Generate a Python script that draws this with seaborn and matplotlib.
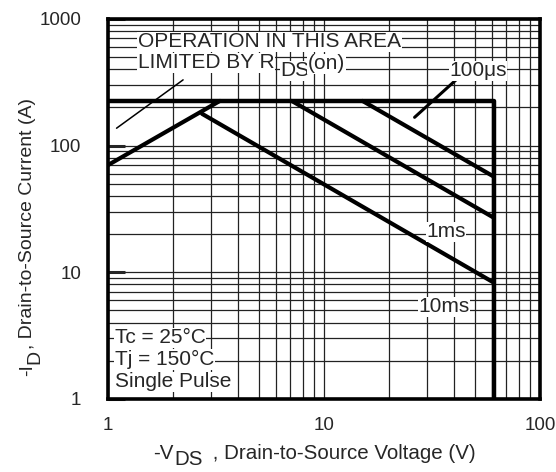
import matplotlib
matplotlib.use("Agg")
import matplotlib.pyplot as plt
import matplotlib.ticker as mticker
import seaborn as sns

# -----------------------------
# Data
# -----------------------------
# outer limit: current limit (225 A) then voltage limit (61 V)
limit_vds = [1, 61, 61]
limit_id = [225, 225, 1]

# RDS(on) limited region
rds_vds = [1, 3.3]
rds_id = [70, 225]

# pulse lines
ms10_vds = [2.73, 61]
ms10_id = [178, 8.3]
ms1_vds = [7.1, 61]
ms1_id = [225, 27]
us100_vds = [15.1, 61]
us100_id = [225, 57]

# pointer lines for the labels
rds_ptr_vds = [2.23, 1.097]
rds_ptr_id = [330, 137]
us_ptr_vds = [42.6, 26.3]
us_ptr_id = [351, 167]

x_ticks = [1, 10, 100]
y_ticks = [1, 10, 100, 1000]

# -----------------------------
# Style
# -----------------------------
sns.set_style("white")
plt.rcParams["font.family"] = ["Liberation Sans", "DejaVu Sans"]

fig = plt.figure(figsize=(5.56, 4.72), dpi=100)
ax = fig.add_axes([0.194, 0.155, 0.777, 0.805])
ax.set_xscale("log")
ax.set_yscale("log")
ax.set_xlim(1, 100)
ax.set_ylim(1, 1000)

# grid
ax.grid(which="both", color="#222222", lw=0.9)
ax.set_axisbelow(True)

line_kw = dict(ax=ax, color="black", estimator=None, sort=False, legend=False)
sns.lineplot(x=limit_vds, y=limit_id, lw=3.2, **line_kw)
sns.lineplot(x=rds_vds, y=rds_id, lw=3, **line_kw)
sns.lineplot(x=ms10_vds, y=ms10_id, lw=3, **line_kw)
sns.lineplot(x=ms1_vds, y=ms1_id, lw=3, **line_kw)
sns.lineplot(x=us100_vds, y=us100_id, lw=3, **line_kw)
sns.lineplot(x=rds_ptr_vds, y=rds_ptr_id, lw=1.1, **line_kw)
sns.lineplot(x=us_ptr_vds, y=us_ptr_id, lw=2.2, **line_kw)

# -----------------------------
# Labels inside the plot
# -----------------------------
box = dict(facecolor="white", edgecolor="none", pad=0.5)
fs = 15
ax.text(1.379, 658, "OPERATION IN THIS AREA", fontsize=fs, va="center", ha="left", bbox=box)
ax.text(1.379, 450, "LIMITED BY R", fontsize=fs, va="center", ha="left", bbox=box)
ax.text(6.31, 389, "DS", fontsize=fs, va="center", ha="left", bbox=box)
ax.text(8.43, 441, "(on)", fontsize=fs, va="center", ha="left", bbox=box)
ax.text(38.1, 389, "100\u03bcs", fontsize=fs, va="center", ha="left", bbox=box)
ax.text(29.8, 20.8, "1ms", fontsize=fs, va="center", ha="left", bbox=box)
ax.text(27.4, 5.33, "10ms", fontsize=fs, va="center", ha="left", bbox=box)
ax.text(1.078, 3.03, "Tc = 25\u00b0C", fontsize=fs, va="center", ha="left", bbox=box)
ax.text(1.078, 2.04, "Tj = 150\u00b0C", fontsize=fs, va="center", ha="left", bbox=box)
ax.text(1.078, 1.365, "Single Pulse", fontsize=fs, va="center", ha="left", bbox=box)

# -----------------------------
# Axes
# -----------------------------
ax.xaxis.set_major_locator(mticker.FixedLocator(x_ticks))
ax.yaxis.set_major_locator(mticker.FixedLocator(y_ticks))
ax.xaxis.set_major_formatter(mticker.FixedFormatter([str(v) for v in x_ticks]))
ax.yaxis.set_major_formatter(mticker.FixedFormatter([str(v) for v in y_ticks]))
ax.xaxis.set_minor_locator(mticker.LogLocator(base=10, subs=range(2, 10)))
ax.yaxis.set_minor_locator(mticker.LogLocator(base=10, subs=range(2, 10)))
ax.xaxis.set_minor_formatter(mticker.NullFormatter())
ax.yaxis.set_minor_formatter(mticker.NullFormatter())

ax.tick_params(axis="x", which="major", length=0, pad=13, labelsize=13.5)
ax.tick_params(axis="y", which="major", direction="in", length=12, width=2.2,
               pad=19, labelsize=13.5, left=True)
ax.tick_params(which="minor", length=0)

for s in ax.spines.values():
    s.set_visible(True)
    s.set_color("black")
    s.set_linewidth(2.6)

# axis titles built from pieces so the subscripts stay large like the datasheet
xl_fs = 14.8
xl1 = ax.text(0.104, -0.143, "-V", transform=ax.transAxes, fontsize=xl_fs,
              ha="left", va="center")
xl2 = ax.annotate("DS", xy=(1, 0.5), xycoords=xl1, xytext=(1, -4.5),
                  textcoords="offset points", fontsize=xl_fs, ha="left", va="center")
ax.annotate(" , Drain-to-Source Voltage (V)", xy=(1, 0.5), xycoords=xl2,
            xytext=(3, 4.5), textcoords="offset points", fontsize=xl_fs,
            ha="left", va="center")

yl_fs = 14
yl1 = ax.text(-0.185, 0.06, "-I", transform=ax.transAxes, fontsize=yl_fs,
              rotation=90, ha="center", va="bottom")
yl2 = ax.annotate("D", xy=(0.5, 1), xycoords=yl1, xytext=(5, 0),
                  textcoords="offset points", fontsize=yl_fs, rotation=90,
                  ha="center", va="bottom")
ax.annotate(", Drain-to-Source Current (A)", xy=(0.5, 1), xycoords=yl2,
            xytext=(-5, 1), textcoords="offset points", fontsize=yl_fs,
            rotation=90, ha="center", va="bottom")

plt.savefig("out.png", dpi=100)
